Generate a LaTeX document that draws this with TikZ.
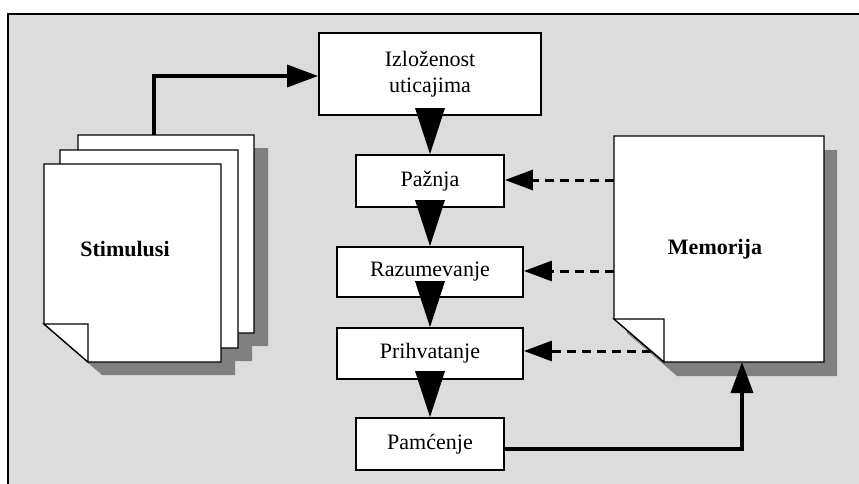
\documentclass[tikz,border=0pt]{standalone}
\usepackage{fontspec}
\setmainfont{Liberation Serif}
\usetikzlibrary{arrows.meta,calc}
\definecolor{bggray}{RGB}{220,220,220}
\definecolor{shadowgray}{RGB}{128,128,128}
\begin{document}
\begin{tikzpicture}[x=1pt,y=-1pt,
  every node/.style={font=\fontsize{22}{26}\selectfont},
  procbox/.style={draw=black,line width=1.8pt,fill=white,inner sep=0pt,align=center},
  pageline/.style={draw=black,line width=1.3pt,fill=white},
  pageshadow/.style={fill=shadowgray},
  solidarrow/.style={line width=3.6pt,-{Triangle[length=31pt,width=22pt]}},
  dasharrow/.style={line width=3pt,dash pattern=on 9pt off 6pt,-{Triangle[length=28pt,width=20pt]}},
  bold label/.style={font=\fontsize{22}{26}\selectfont\bfseries}
]
\useasboundingbox (0,0) rectangle (859,484);
% background frame
\fill[bggray] (8,14) rectangle (870,495);
\draw[line width=2.5pt] (8,495) -- (8,14) -- (870,14);

% ---- Stimulusi page stack ----
\fill[pageshadow] (92,148) -- (268,148) -- (268,346) -- (136,346) -- (92,308) -- cycle;
\fill[pageshadow] (74,163) -- (252,163) -- (252,361) -- (118,361) -- (74,323) -- cycle;
\fill[pageshadow] (58,177) -- (235,177) -- (235,375) -- (102,375) -- (58,337) -- cycle;
\path[pageline] (78,135) -- (254,135) -- (254,333) -- (122,333) -- (78,295) -- cycle;
\path[pageline] (60,150) -- (238,150) -- (238,348) -- (104,348) -- (60,310) -- cycle;
\path[pageline] (44,164) -- (221,164) -- (221,362) -- (88,362) -- (44,324) -- cycle;
\path[pageline] (44,324) -- (88,324) -- (88,362) -- cycle;
\node[bold label] (stim) at (125,249) {Stimulusi};
\coordinate (stimtop) at (154,135);

% ---- Memorija page ----
\fill[pageshadow] (627,150) -- (837,150) -- (837,376) -- (677,376) -- (627,333) -- cycle;
\path[pageline] (614,136) -- (824,136) -- (824,362) -- (664,362) -- (614,319) -- cycle;
\path[pageline] (614,319) -- (664,319) -- (664,362) -- cycle;
\node[bold label] (mem) at (715,249) {Memorija};
\coordinate (m1) at (614,180);
\coordinate (m2) at (614,271);
\coordinate (m3) at (651,351);
\coordinate (mtip) at (742,362);

% ---- process boxes ----
\node[procbox,minimum width=222pt,minimum height=82pt] (izl) at (430,74) {Izloženost\\uticajima};
\node[procbox,minimum width=148pt,minimum height=52pt] (paz) at (430,181) {Pažnja};
\node[procbox,minimum width=186pt,minimum height=50pt] (raz) at (430,272) {Razumevanje};
\node[procbox,minimum width=186pt,minimum height=51pt] (pri) at (430,353.5) {Prihvatanje};
\node[procbox,minimum width=148pt,minimum height=52pt] (pam) at (430,444) {Pamćenje};

% ---- big triangle connectors ----
\foreach \b in {paz,raz,pri,pam}{
  \fill[black] ($(\b.north)+(-15,-46)$) -- (\b.north) -- ($(\b.north)+(15,-46)$) -- cycle;
}

% ---- solid arrows ----
\draw[solidarrow] (stimtop) |- ([yshift=-2pt]izl.west);
\draw[solidarrow] ([yshift=-5pt]pam.east) -| (mtip);

% ---- dashed arrows ----
\draw[dasharrow] (m1) -- (m1 -| paz.east);
\draw[dasharrow] (m2) -- (m2 -| raz.east);
\draw[dasharrow] (m3) -- (m3 -| pri.east);
\end{tikzpicture}
\end{document}
